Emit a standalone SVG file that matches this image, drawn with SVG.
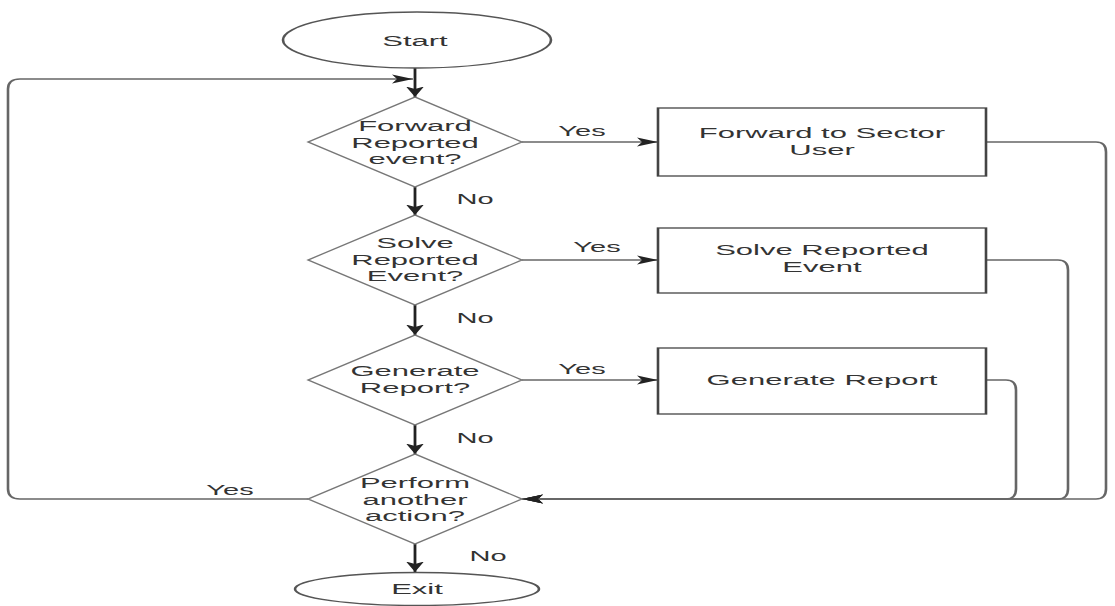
<svg xmlns="http://www.w3.org/2000/svg" width="1115" height="606" viewBox="0 0 1115 606">
  <defs>
    <style>
      .term { fill: #fff; stroke: #555; stroke-width: 1.3; }
      .dec { fill: #fff; stroke: #777; stroke-width: 1.1; }
      .proc { fill: #fff; stroke: #444; stroke-width: 1.3; }
      .flow { fill: none; stroke: #222; stroke-width: 1.4; }
      .link { fill: none; stroke: #666; stroke-width: 1.3; }
      .txt { font-family: "Liberation Sans", Arial, sans-serif; font-size: 15.5px; fill: #333; text-anchor: middle; }
      .lbl { font-family: "Liberation Sans", Arial, sans-serif; font-size: 14.5px; fill: #333; text-anchor: middle; }
    </style>
    <marker id="arrow" viewBox="0 -5 11 10" refX="10.5" refY="0" markerWidth="11" markerHeight="10" markerUnits="userSpaceOnUse" orient="auto">
      <path d="M0,-4.5 L10.5,0 L0,4.5 L2.5,0 z" fill="#222"/>
    </marker>
  </defs>

  <!-- the whole chart is laid out at half width and stretched 2x horizontally -->
  <g transform="scale(2,1)">
    <g id="connectors">
      <!-- main vertical flow -->
      <path class="flow" d="M207.5,68 V97" marker-end="url(#arrow)"/>
      <path class="flow" d="M207.5,187 V215" marker-end="url(#arrow)"/>
      <path class="flow" d="M207.5,305 V335" marker-end="url(#arrow)"/>
      <path class="flow" d="M207.5,425 V454" marker-end="url(#arrow)"/>
      <path class="flow" d="M207.5,544 V572" marker-end="url(#arrow)"/>
      <!-- yes branches -->
      <path class="link" d="M261,142 H329" marker-end="url(#arrow)"/>
      <path class="link" d="M261,260 H329" marker-end="url(#arrow)"/>
      <path class="link" d="M261,380 H329" marker-end="url(#arrow)"/>
      <!-- returns from the actions -->
      <path class="link" d="M493,142 H548 Q553,142 553,152 V489 Q553,499 548,499 H261" marker-end="url(#arrow)"/>
      <path class="link" d="M493,260 H529 Q534,260 534,270 V489 Q534,499 529,499 H261" marker-end="url(#arrow)"/>
      <path class="link" d="M493,380 H503 Q508,380 508,390 V489 Q508,499 503,499 H261" marker-end="url(#arrow)"/>
      <!-- loop back to the first decision -->
      <path class="link" d="M154,499 H10 Q4,499 4,489 V89 Q4,79 10,79 H206.5" marker-end="url(#arrow)"/>
    </g>

    <g id="start">
      <ellipse class="term" cx="208.5" cy="40" rx="67" ry="28"/>
    </g>
    <g id="decision-forward">
      <polygon class="dec" points="207.5,97 261,142 207.5,187 154,142"/>
    </g>
    <g id="decision-solve">
      <polygon class="dec" points="207.5,215 261,260 207.5,305 154,260"/>
    </g>
    <g id="decision-report">
      <polygon class="dec" points="207.5,335 261,380 207.5,425 154,380"/>
    </g>
    <g id="decision-another">
      <polygon class="dec" points="207.5,454 261,499 207.5,544 154,499"/>
    </g>
    <g id="forward-sector">
      <rect class="proc" x="329" y="108" width="164" height="68"/>
    </g>
    <g id="solve-event">
      <rect class="proc" x="329" y="228" width="164" height="65"/>
    </g>
    <g id="generate-report">
      <rect class="proc" x="329" y="348" width="164" height="66"/>
    </g>
    <g id="exit">
      <ellipse class="term" cx="208.5" cy="589" rx="61" ry="16.5"/>
    </g>

    <!-- node texts -->
    <text class="txt" x="207.5" y="46">Start</text>
    <text class="txt" x="207.5" y="131">Forward</text>
    <text class="txt" x="207.5" y="148">Reported</text>
    <text class="txt" x="207.5" y="164">event?</text>
    <text class="txt" x="207.5" y="248">Solve</text>
    <text class="txt" x="207.5" y="265">Reported</text>
    <text class="txt" x="207.5" y="281">Event?</text>
    <text class="txt" x="207.5" y="376">Generate</text>
    <text class="txt" x="207.5" y="393">Report?</text>
    <text class="txt" x="207.5" y="488">Perform</text>
    <text class="txt" x="207.5" y="505">another</text>
    <text class="txt" x="207.5" y="521">action?</text>
    <text class="txt" x="411" y="138">Forward to Sector</text>
    <text class="txt" x="411" y="155">User</text>
    <text class="txt" x="411" y="255">Solve Reported</text>
    <text class="txt" x="411" y="272">Event</text>
    <text class="txt" x="411" y="385">Generate Report</text>
    <text class="txt" x="208.5" y="594">Exit</text>

    <!-- branch labels -->
    <text class="lbl" x="291" y="136">Yes</text>
    <text class="lbl" x="298.5" y="252">Yes</text>
    <text class="lbl" x="291" y="374">Yes</text>
    <text class="lbl" x="115" y="495">Yes</text>
    <text class="lbl" x="237.5" y="204">No</text>
    <text class="lbl" x="237.5" y="323">No</text>
    <text class="lbl" x="237.5" y="443">No</text>
    <text class="lbl" x="244" y="561">No</text>
  </g>
</svg>
